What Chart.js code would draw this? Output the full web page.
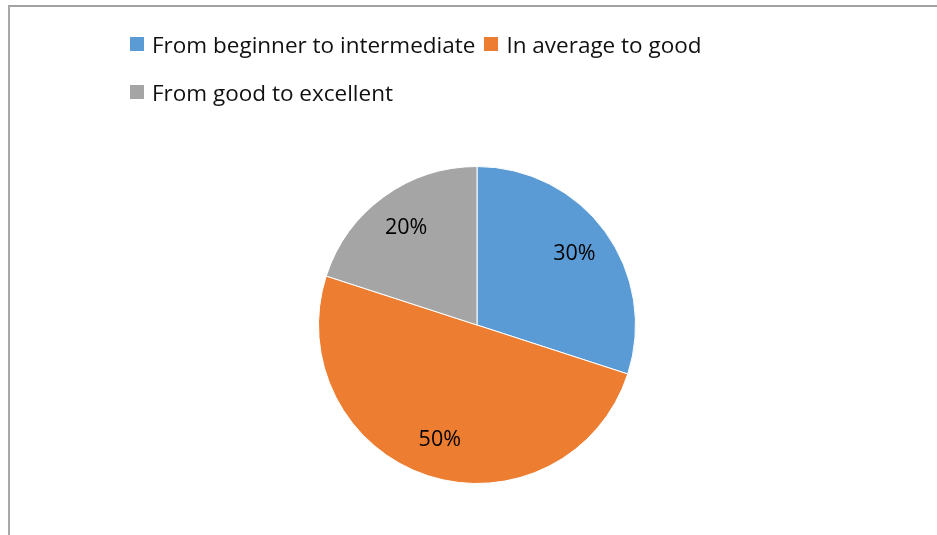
<!DOCTYPE html>
<html>
<head>
<meta charset="utf-8">
<script src="https://cdn.jsdelivr.net/npm/chart.js@4/dist/chart.umd.min.js"></script>
<style>
  html, body { margin: 0; padding: 0; background: #fff; }
  #wrap { position: relative; width: 937px; height: 535px; overflow: hidden; }
  #frame { position: absolute; left: 8px; top: 5px; width: 940px; height: 540px;
           border-top: 2px solid #a2a2a2; border-left: 2px solid #a8a8a8; }
  #chart { position: absolute; left: 0; top: 0; }
  #legend { position: absolute; left: 130px; top: 20px; width: 760px;
            font-family: "Open Sans", sans-serif; font-size: 22.5px; color: #111; }
  .row { display: flex; height: 48px; align-items: center; }
  .item { display: flex; align-items: center; margin-right: 9px; }
  .box { width: 14px; height: 14px; margin-right: 8px; }
</style>
</head>
<body>
<div id="wrap">
  <div id="frame"></div>
  <canvas id="chart" width="937" height="535"></canvas>
  <div id="legend"></div>
</div>
<script>
"use strict";

const categories = ["From beginner to intermediate", "In average to good", "From good to excellent"];
const shares = [30, 50, 20];
const sliceColors = ["#5b9bd5", "#ed7d31", "#a5a5a5"];
// legend rows as laid out (indexes into categories)
const legendRows = [[0, 1], [2]];

// percent text inside each slice
const sliceLabels = {
    id: "sliceLabels",
    afterDatasetsDraw(chart) {
        let ctx = chart.ctx;
        let meta = chart.getDatasetMeta(0);
        ctx.save();
        ctx.font = "21.5px 'Open Sans', sans-serif";
        ctx.fillStyle = "#000";
        ctx.textAlign = "center";
        ctx.textBaseline = "middle";
        meta.data.forEach(function (arc, i) {
            let mid = (arc.startAngle + arc.endAngle) / 2;
            let r = arc.outerRadius * 0.76;
            ctx.fillText(shares[i] + "%", arc.x + Math.cos(mid) * r, arc.y + Math.sin(mid) * r);
        });
        ctx.restore();
    }
};

let myChart = new Chart(document.getElementById("chart"), {
    type: "pie",
    data: {
        labels: categories,
        datasets: [{
            data: shares,
            backgroundColor: sliceColors,
            borderColor: "#ffffff",
            borderWidth: 1
        }]
    },
    options: {
        responsive: false,
        animation: false,
        layout: { padding: { left: 318, right: 301, top: 166, bottom: 51 } },
        plugins: {
            legend: { display: false },
            tooltip: { enabled: false }
        }
    },
    plugins: [sliceLabels]
});

// legend built from the chart's own labels/colours
let legend = document.getElementById("legend");
legendRows.forEach(function (row) {
    let div = document.createElement("div");
    div.className = "row";
    row.forEach(function (i) {
        let item = document.createElement("span");
        item.className = "item";
        let box = document.createElement("span");
        box.className = "box";
        box.style.background = myChart.data.datasets[0].backgroundColor[i];
        item.appendChild(box);
        item.appendChild(document.createTextNode(myChart.data.labels[i]));
        div.appendChild(item);
    });
    legend.appendChild(div);
});
</script>
</body>
</html>
